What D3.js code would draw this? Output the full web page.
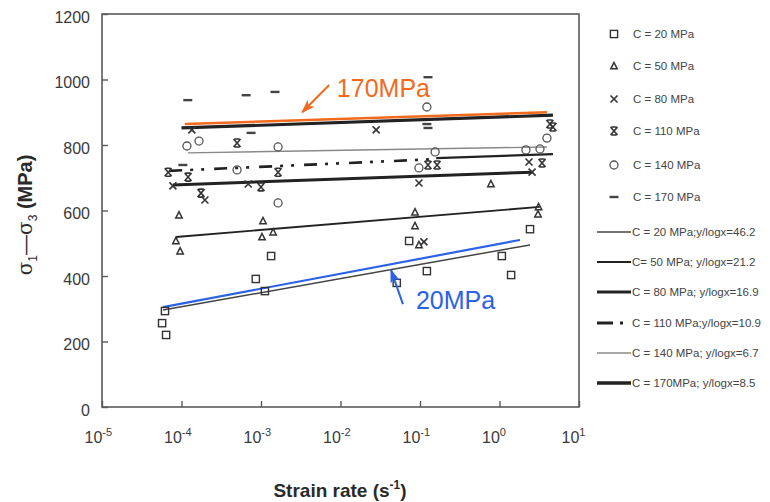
<!DOCTYPE html>
<html><head><meta charset="utf-8">
<script src="https://cdn.jsdelivr.net/npm/d3@7"></script>
<style>
html,body{margin:0;padding:0;background:#fff;}
svg{display:block;font-family:"Liberation Sans",Arial,Helvetica,sans-serif;}
</style></head><body>
<svg id="chart" width="770" height="502"></svg>
<script>
// ---------------- data (strain rate s^-1, deviatoric stress MPa) ----------------
const seriesNames = ["C = 20 MPa","C = 50 MPa","C = 80 MPa","C = 110 MPa","C = 140 MPa","C = 170 MPa"];
const seriesSymbols = ["square","triangle","x","xbar","circle","dash"];

const pts20  = [[6.2e-5,293],[5.7e-5,256],[6.4e-5,220],[8.6e-4,391],[1.12e-3,354],[1.34e-3,461],
                [0.051,379],[0.073,507],[0.122,415],[1.07,461],[1.40,403],[2.42,543]];
const pts50  = [[9.3e-5,586],[8.5e-5,507],[9.6e-5,476],[1.06e-3,568],[1.03e-3,519],[1.42e-3,534],
                [0.0865,595],[0.0865,553],[0.097,495],[0.78,681],[3.05,589],[3.1,611]];
const pts80  = [[7.8e-5,675],[1.35e-4,846],[1.97e-4,632],[6.9e-4,681],[0.0281,846],[0.097,684],
                [0.112,504],[2.35,748],[2.57,717]];
const pts110 = [[6.8e-5,717],[1.21e-4,702],[1.76e-4,653],[5.0e-4,806],[1.0e-3,672],[1.64e-3,717],
                [0.126,739],[0.164,739],[3.43,745],[4.3,864],[4.7,855]];
const pts140 = [[1.17e-4,797],[1.66e-4,812],[5.0e-4,724],[1.64e-3,794],[1.64e-3,623],[0.097,730],
                [0.122,916],[0.155,779],[2.15,785],[3.23,788],[3.95,821]];
const pts170 = [[1.2e-4,937],[6.5e-4,952],[1.5e-3,962],[7.5e-4,837],[1.04e-4,739],[0.126,1007],
                [0.122,864],[0.126,852]];

const fitLabels = ["C = 20 MPa;y/logx=46.2","C= 50 MPa; y/logx=21.2","C = 80 MPa; y/logx=16.9",
                   "C = 110 MPa;y/logx=10.9","C = 140 MPa; y/logx=6.7","C = 170MPa; y/logx=8.5"];
const fit20  = [[5.85e-5,296],[2.42,495]];
const fit50  = [[8.5e-5,519],[3.2,611]];
const fit80  = [[7.8e-5,678],[2.6,717]];
const fit110Dash  = [[7.0e-5,721],[0.16,757]];
const fit110Solid = [[0.16,760],[4.7,772]];
const fit140 = [[1.2e-4,776],[3.95,794]];
const fit170 = [[1.0e-4,852],[4.7,891]];

const hiliteBlue   = [[5.85e-5,305],[1.81,510]];
const hiliteOrange = [[1.1e-4,864],[3.95,900]];
const noteOrange = {text:"170MPa", at:[9.0e-3,946], tail:[7.2e-3,983], tip:[3.3e-3,900]};
const noteBlue   = {text:"20MPa",  at:[0.089,299],  tail:[0.061,314], tip:[0.0432,418]};

const yTicks = [0,200,400,600,800,1000,1200];
const xTickExps = [-5,-4,-3,-2,-1,0,1];

// ---------------- layout ----------------
const svg = d3.select("#chart");
const L = 102, R = 579, T = 14, B = 407;
const x = d3.scaleLog().domain([1e-5, 10]).range([L, R]);
const y = d3.scaleLinear().domain([0, 1200]).range([B, T]);
const axisCol = "#5a5a5a", ink = "#2a2a2a";

// frame
svg.append("rect").attr("x", L).attr("y", T).attr("width", R - L).attr("height", B - T)
  .attr("fill", "none").attr("stroke", axisCol).attr("stroke-width", 1.6);

// y axis
const gy = svg.append("g").attr("transform", `translate(${L},0)`)
  .call(d3.axisLeft(y).tickValues(yTicks).tickFormat(d3.format("d"))
        .tickSizeInner(-6).tickSizeOuter(0).tickPadding(12));
gy.select(".domain").remove();
gy.selectAll("line").attr("stroke", axisCol).attr("stroke-width", 1.4);
gy.selectAll("text").attr("font-size", 16).attr("fill", "#3a3a3a").attr("dy", "0.5em")
  .attr("font-family", "'Liberation Sans',Arial,sans-serif");

// x axis
const gx = svg.append("g").attr("transform", `translate(0,${B})`)
  .call(d3.axisBottom(x).tickValues(xTickExps.map(e => Math.pow(10, e))).tickSizeInner(-6)
        .tickSizeOuter(0).tickFormat(() => ""));
gx.select(".domain").remove();
gx.selectAll("line").attr("stroke", axisCol).attr("stroke-width", 1.4);
gx.selectAll(".tick").each(function(d, i) {
  const t = d3.select(this).select("text")
    .attr("y", 36).attr("dy", null).attr("x", -18).attr("text-anchor", "start")
    .attr("font-size", 16).attr("fill", "#3a3a3a")
    .attr("font-family", "'Liberation Sans',Arial,sans-serif");
  t.append("tspan").text("10");
  t.append("tspan").attr("font-size", 11).attr("dy", -7).text(String(xTickExps[i]));
});

// axis titles
const yt = svg.append("text").attr("transform", "translate(32,215) rotate(-90)")
  .attr("text-anchor", "middle").attr("font-size", 20).attr("fill", ink);
yt.append("tspan").attr("font-family", "'DejaVu Serif',serif").text("σ");
yt.append("tspan").attr("font-size", 12).attr("dy", 5).text("1");
yt.append("tspan").attr("dy", -5).text("—");
yt.append("tspan").attr("font-family", "'DejaVu Serif',serif").text("σ");
yt.append("tspan").attr("font-size", 12).attr("dy", 5).text("3");
yt.append("tspan").attr("dy", -5).attr("font-weight", "bold").text(" (MPa)");

const xt = svg.append("text").attr("x", 340).attr("y", 497).attr("text-anchor", "middle")
  .attr("font-size", 19).attr("font-weight", "bold").attr("fill", ink);
xt.append("tspan").text("Strain rate (s");
xt.append("tspan").attr("font-size", 12).attr("dy", -8).text("-1");
xt.append("tspan").attr("dy", 8).text(")");

// ---------------- markers ----------------
function marker(g, type, cx, cy) {
  const m = g.append("g").attr("transform", `translate(${cx},${cy})`)
    .attr("fill", "none").attr("stroke", "#333").attr("stroke-width", 1.4);
  if (type === "square") m.append("rect").attr("x", -3.6).attr("y", -3.6).attr("width", 7.2).attr("height", 7.2);
  else if (type === "triangle") m.append("path").attr("d", "M0,-3.5L3.2,2.8L-3.2,2.8Z").attr("stroke-width", 1.5);
  else if (type === "x") m.append("path").attr("d", "M-3.5,-3.5L3.5,3.5M3.5,-3.5L-3.5,3.5").attr("stroke-width", 1.6);
  else if (type === "xbar") m.append("path").attr("d", "M-3.5,-4L3.5,4M3.5,-4L-3.5,4M-2.5,-4H2.5M-2.5,4H2.5").attr("stroke-width", 1.6);
  else if (type === "circle") m.append("circle").attr("r", 4).attr("stroke", "#555").attr("stroke-width", 1.3);
  else if (type === "dash") m.append("path").attr("d", "M-4.5,0H4.5").attr("stroke", "#444").attr("stroke-width", 2.4);
}

// ---------------- fit lines ----------------
const line = d3.line().x(d => x(d[0])).y(d => y(d[1]));
const lg = svg.append("g");
function fit(data, stroke, w, dash) {
  lg.append("path").datum(data).attr("d", line).attr("fill", "none")
    .attr("stroke", stroke).attr("stroke-width", w).attr("stroke-dasharray", dash || null);
}
fit(fit20, "#444", 1.5);
fit(fit50, "#222", 1.9);
fit(fit80, "#222", 3);
fit(fit110Dash, "#222", 2.6, "13,8,3,8,3,10");
fit(fit110Solid, "#222", 2.2);
fit(fit140, "#888", 1.4);
fit(fit170, "#222", 3.2);

// points
const pg = svg.append("g");
[pts20, pts50, pts80, pts110, pts140, pts170].forEach((arr, i) => {
  arr.forEach(d => marker(pg, seriesSymbols[i], x(d[0]), y(d[1])));
});

// highlight lines
fit(hiliteBlue, "#2b62e6", 2.2);
fit(hiliteOrange, "#f26a1c", 2.4);

// annotations
const defs = svg.append("defs");
[["ahO", "#f26a1c"], ["ahB", "#2b62e6"]].forEach(([id, c]) => {
  defs.append("marker").attr("id", id).attr("viewBox", "0 0 10 10").attr("refX", 9).attr("refY", 5)
    .attr("markerWidth", 7).attr("markerHeight", 7).attr("orient", "auto-start-reverse")
    .append("path").attr("d", "M0,1.5L10,5L0,8.5L2.5,5Z").attr("fill", c);
});
function note(n, col, mid) {
  svg.append("line").attr("x1", x(n.tail[0])).attr("y1", y(n.tail[1]))
    .attr("x2", x(n.tip[0])).attr("y2", y(n.tip[1]))
    .attr("stroke", col).attr("stroke-width", 2).attr("marker-end", `url(#${mid})`);
  svg.append("text").attr("x", x(n.at[0])).attr("y", y(n.at[1])).attr("font-size", 25)
    .attr("fill", col).text(n.text);
}
note(noteOrange, "#f26a1c", "ahO");
note(noteBlue, "#2b62e6", "ahB");

// ---------------- legend ----------------
const leg = svg.append("g");
const symY = [34, 66, 99, 131, 165, 197];
seriesNames.forEach((nm, i) => {
  marker(leg, seriesSymbols[i], 614, symY[i]);
  leg.append("text").attr("x", 633).attr("y", symY[i] + 4).attr("font-size", 11.5)
    .attr("fill", "#444").text(nm);
});
const fitY = [232, 262, 292, 323, 353, 383];
const fitStyles = [["#444",1.3,null],["#222",2,null],["#222",3.2,null],["#222",2.8,"16,7,3,30"],["#888",1.3,null],["#222",3.4,null]];
fitLabels.forEach((nm, i) => {
  const s = fitStyles[i];
  leg.append("line").attr("x1", 597).attr("x2", 631).attr("y1", fitY[i]).attr("y2", fitY[i])
    .attr("stroke", s[0]).attr("stroke-width", s[1]).attr("stroke-dasharray", s[2]);
  leg.append("text").attr("x", 632).attr("y", fitY[i] + 4).attr("font-size", 11.5)
    .attr("fill", "#444").text(nm);
});
</script>
</body></html>
